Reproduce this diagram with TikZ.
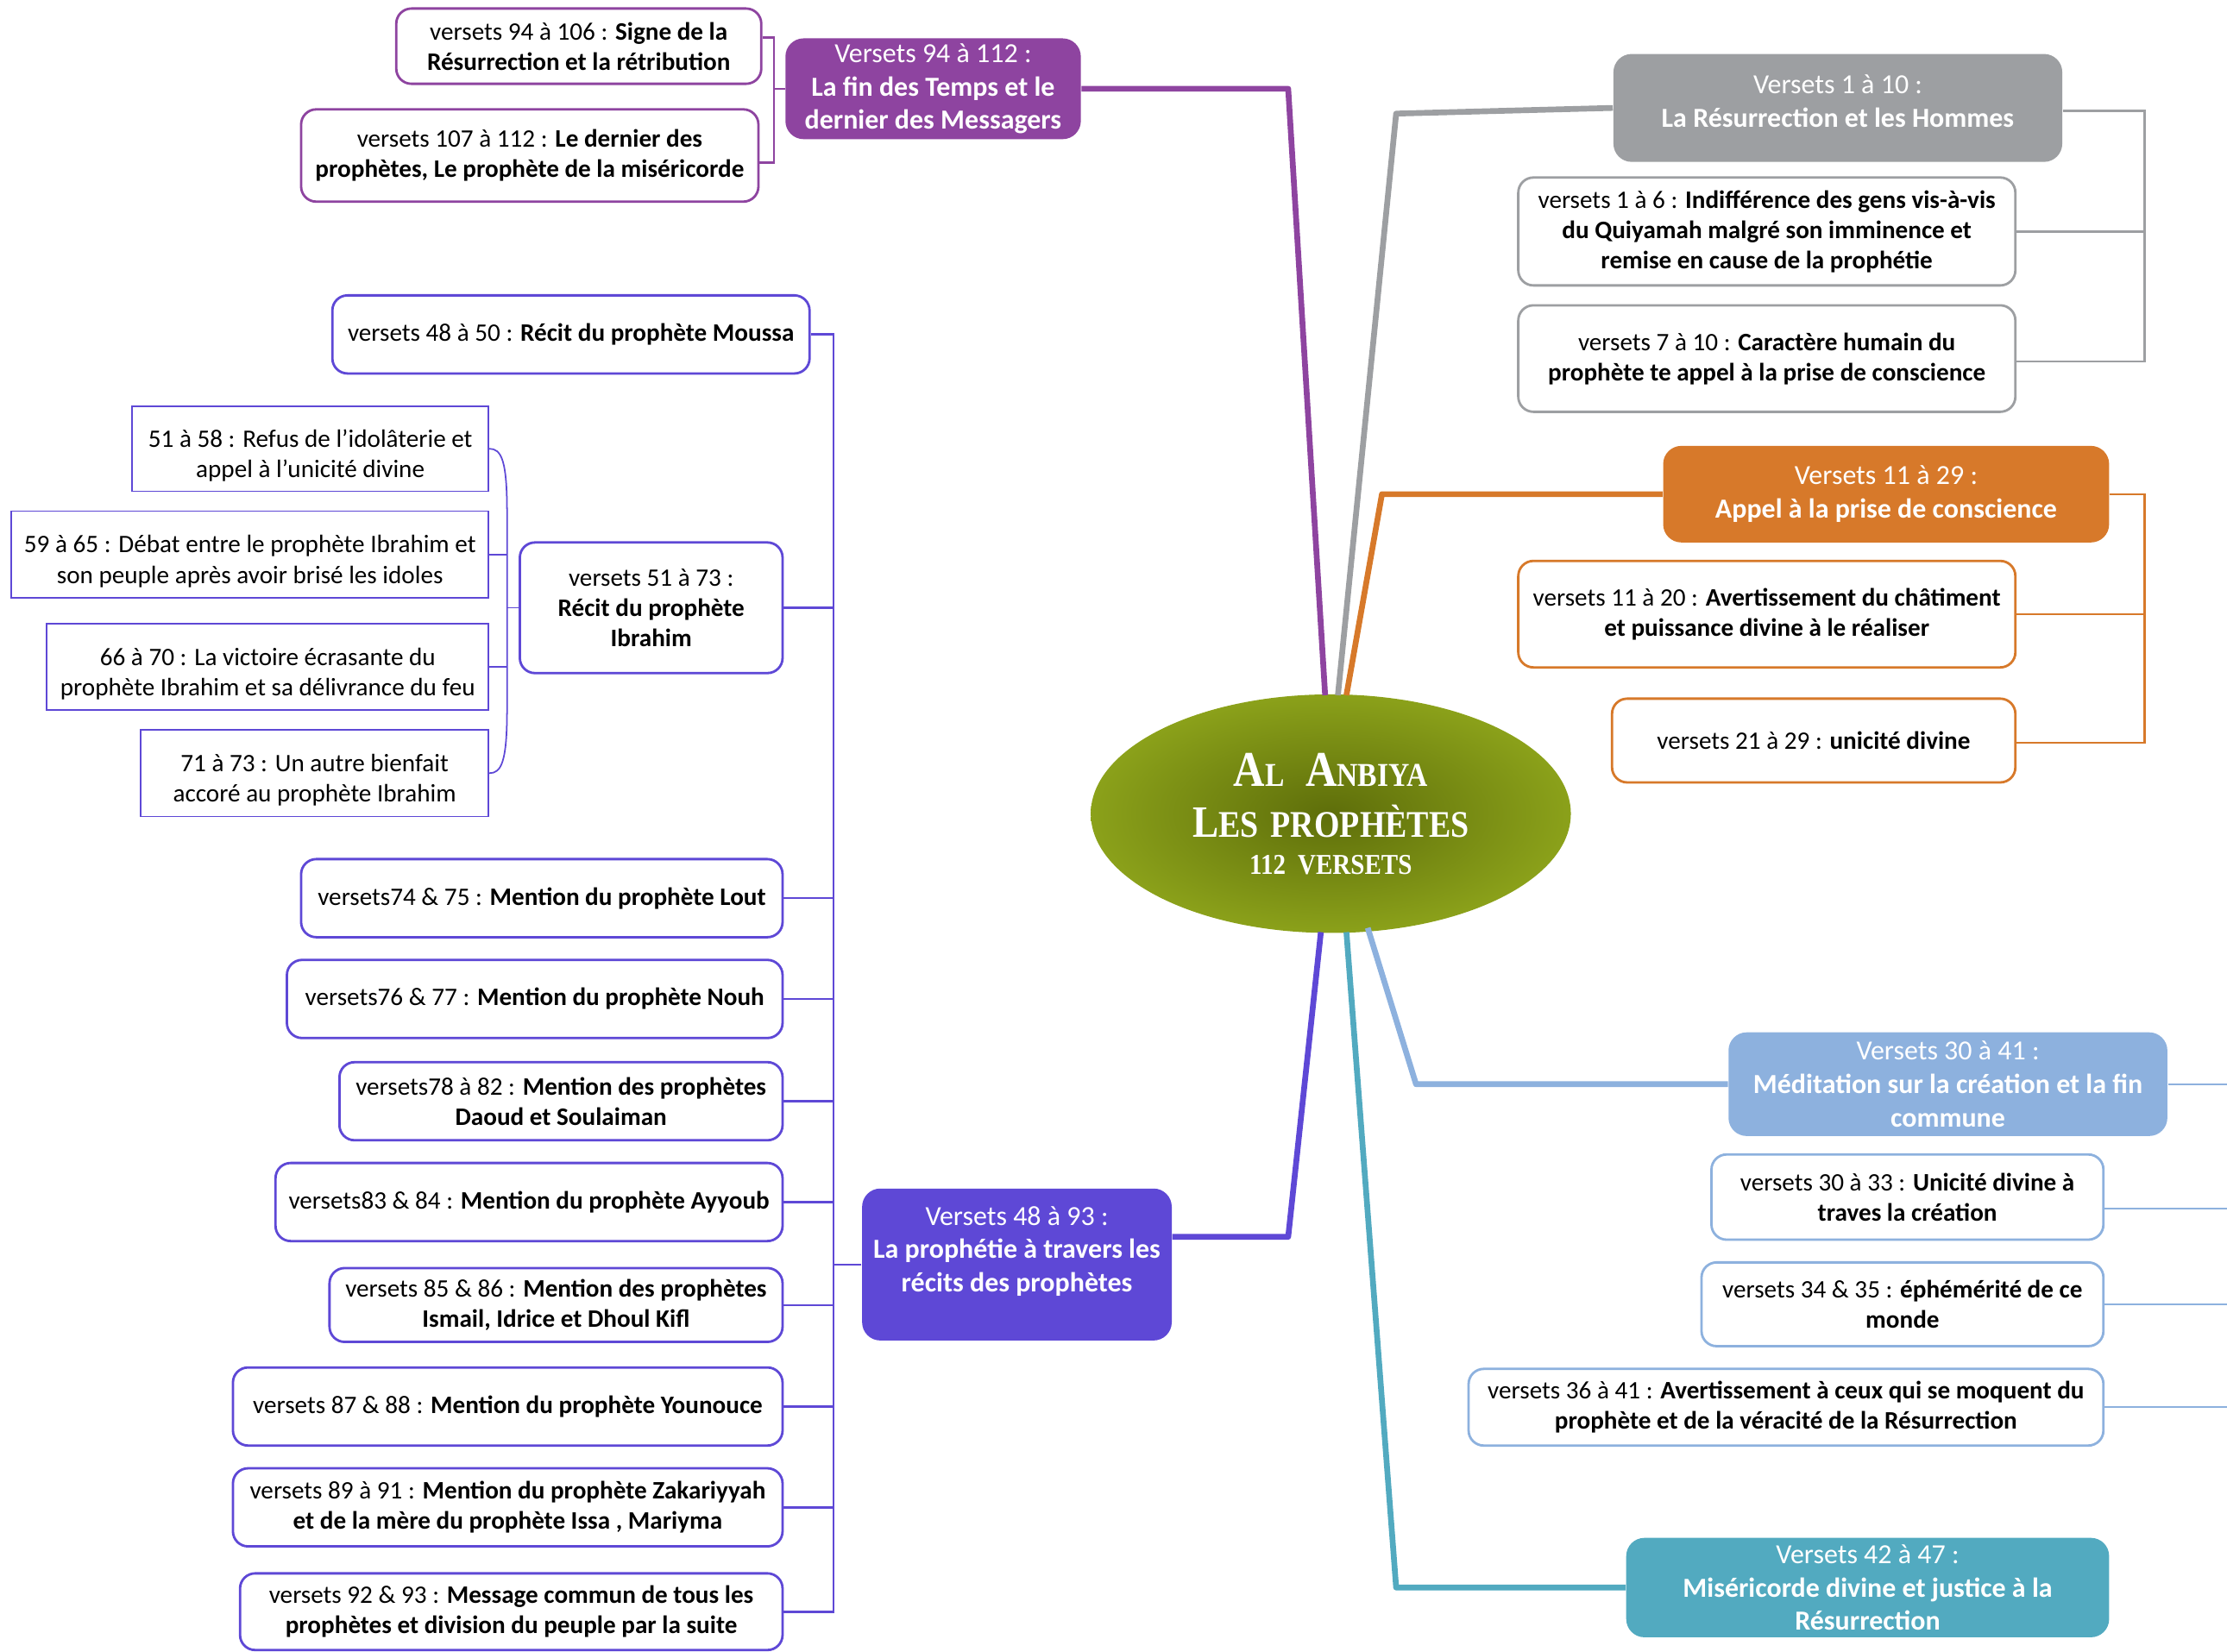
\documentclass[tikz,border=0pt]{standalone}
\usepackage{fontspec}
\setmainfont{Carlito}
\newfontfamily\titlefont[FakeStretch=0.87]{Liberation Serif}
\usetikzlibrary{shapes.geometric,calc}

\definecolor{finpurple}{RGB}{142,68,160}
\definecolor{resgray}{RGB}{157,159,162}
\definecolor{appelorange}{RGB}{215,121,42}
\definecolor{medblue}{RGB}{141,177,222}
\definecolor{misteal}{RGB}{82,170,192}
\definecolor{recviolet}{RGB}{94,72,214}
\definecolor{olivein}{RGB}{94,110,10}
\definecolor{oliveout}{RGB}{139,161,26}

\newcommand\pu{0.01646cm}
\newcommand\ttl[2]{{\fontsize{#1}{#1}\selectfont #2}}

\tikzset{
  topic/.style={fill=#1, rounded corners=6pt, text=white, align=center,
    font=\fontsize{9.1}{11}\selectfont, inner sep=0pt},
  leaf/.style={draw=#1, fill=white, line width=0.8pt, rounded corners=5pt,
    align=center, font=\fontsize{8.3}{10}\selectfont, inner sep=0pt},
  sq/.style={draw=recviolet, line width=0.5pt, align=center, text height=20.3pt,
    font=\fontsize{8.3}{10}\selectfont, inner sep=0pt},
  dim/.style 2 args={minimum width=#1*\pu, minimum height=#2*\pu},
  trunk/.style={draw=#1, line width=1.9pt, line join=round},
  twig/.style={draw=#1, line width=0.7pt},
}

\begin{document}
\begin{tikzpicture}[x=\pu, y=-\pu]
\useasboundingbox (0,0) rectangle (1568,1163);

% centre
\node[ellipse, dim={338}{168}, inner color=olivein, outer color=oliveout,
  text=white, align=center, font=\titlefont\bfseries\fontsize{12}{17}\selectfont] (ctr) at (937,573)
  {\ttl{16.5}{A}\ttl{11}{L}\hspace{7pt}\ttl{16.5}{A}\ttl{11}{NBIYA}\\
   \ttl{14.8}{L}\ttl{12.4}{ES}\hspace{4pt}\ttl{12.4}{PROPHÈTES}\\[-5pt]
   \ttl{9.5}{112\hspace{4pt}VERSETS}};

% versets 94 a 112
\node[topic=finpurple, dim={208}{71}] (purp) at (657,62.5)
  {Versets 94 à 112 :\\\textbf{La fin des Temps et le}\\\textbf{dernier des Messagers}};
\node[leaf=finpurple, dim={257}{53}] (p1) at (407.5,32.5)
  {versets 94 à 106 : \textbf{Signe de la}\\\textbf{Résurrection et la rétribution}};
\node[leaf=finpurple, dim={322}{65}] (p2) at (373,109.5)
  {versets 107 à 112 : \textbf{Le dernier des}\\\textbf{prophètes, Le prophète de la miséricorde}};

% versets 1 a 10
\node[topic=resgray, dim={316}{76}] (gry) at (1294,76)
  {Versets 1 à 10 :\\\textbf{La Résurrection et les Hommes}\\[-6.4pt]};
\node[leaf=resgray, dim={350}{76}] (g1) at (1244,163)
  {versets 1 à 6 : \textbf{Indifférence des gens vis-à-vis}\\\textbf{du Quiyamah malgré son imminence et}\\\textbf{remise en cause de la prophétie}};
\node[leaf=resgray, dim={350}{75}] (g2) at (1244,252.5)
  {versets 7 à 10 : \textbf{Caractère humain du}\\\textbf{prophète te appel à la prise de conscience}};

% versets 11 a 29
\node[topic=appelorange, dim={314}{68}] (org) at (1328,348)
  {Versets 11 à 29 :\\\textbf{Appel à la prise de conscience}};
\node[leaf=appelorange, dim={350}{75}] (o1) at (1244,432.5)
  {versets 11 à 20 : \textbf{Avertissement du châtiment}\\\textbf{et puissance divine à le réaliser}};
\node[leaf=appelorange, dim={284}{59}] (o2) at (1277,521.5)
  {versets 21 à 29 : \textbf{unicité divine}};

% versets 30 a 41
\node[topic=medblue, dim={309}{73}] (lbl) at (1371.5,763.5)
  {Versets 30 à 41 :\\\textbf{Méditation sur la création et la fin}\\\textbf{commune}};
\node[leaf=medblue, dim={276}{60}] (l1) at (1343,843)
  {versets 30 à 33 : \textbf{Unicité divine à}\\\textbf{traves la création}};
\node[leaf=medblue, dim={283}{59}] (l2) at (1339.5,918.5)
  {versets 34 \& 35 : \textbf{éphémérité de ce}\\\textbf{monde}};
\node[leaf=medblue, dim={447}{54}] (l3) at (1257.5,991)
  {versets 36 à 41 : \textbf{Avertissement à ceux qui se moquent du}\\\textbf{prophète et de la véracité de la Résurrection}};

% versets 42 a 47
\node[topic=misteal, dim={340}{70}] (tea) at (1315,1118)
  {Versets 42 à 47 :\\\textbf{Miséricorde divine et justice à la}\\\textbf{Résurrection}};

% versets 48 a 93
\node[topic=recviolet, dim={218}{107}] (vio) at (716,890.5)
  {Versets 48 à 93 :\\\textbf{La prophétie à travers les}\\\textbf{récits des prophètes}\\[-0.8pt]};
\node[leaf=recviolet, dim={336}{55}] (m1) at (402,235.5)
  {versets 48 à 50 : \textbf{Récit du prophète Moussa}};
\node[leaf=recviolet, dim={185}{92}] (ibr) at (458.5,428)
  {versets 51 à 73 :\\\textbf{Récit du prophète}\\\textbf{Ibrahim}};
\node[sq, dim={251}{60}] (r1) at (218.5,316)
  {51 à 58 : Refus de l’idolâterie et\\appel à l’unicité divine};
\node[sq, dim={336}{61}] (r2) at (176,390.5)
  {59 à 65 : Débat entre le prophète Ibrahim et\\son peuple après avoir brisé les idoles};
\node[sq, dim={311}{61}] (r3) at (188.5,469.5)
  {66 à 70 : La victoire écrasante du\\prophète Ibrahim et sa délivrance du feu};
\node[sq, dim={245}{61}] (r4) at (221.5,544.5)
  {71 à 73 : Un autre bienfait\\accoré au prophète Ibrahim};
\node[leaf=recviolet, dim={339}{55}] (m2) at (381.5,632.5)
  {versets74 \& 75 : \textbf{Mention du prophète Lout}};
\node[leaf=recviolet, dim={349}{55}] (m3) at (376.5,703.5)
  {versets76 \& 77 : \textbf{Mention du prophète Nouh}};
\node[leaf=recviolet, dim={312}{55}] (m4) at (395,775.5)
  {versets78 à 82 : \textbf{Mention des prophètes}\\\textbf{Daoud et Soulaiman}};
\node[leaf=recviolet, dim={357}{55}] (m5) at (372.5,846.5)
  {versets83 \& 84 : \textbf{Mention du prophète Ayyoub}};
\node[leaf=recviolet, dim={319}{52}] (m6) at (391.5,919)
  {versets 85 \& 86 : \textbf{Mention des prophètes}\\\textbf{Ismail, Idrice et Dhoul Kifl}};
\node[leaf=recviolet, dim={387}{55}] (m7) at (357.5,990.5)
  {versets 87 \& 88 : \textbf{Mention du prophète Younouce}};
\node[leaf=recviolet, dim={387}{55}] (m8) at (357.5,1061.5)
  {versets 89 à 91 : \textbf{Mention du prophète Zakariyyah}\\\textbf{et de la mère du prophète Issa , Mariyma}};
\node[leaf=recviolet, dim={382}{54}] (m9) at (360,1135)
  {versets 92 \& 93 : \textbf{Message commun de tous les}\\\textbf{prophètes et division du peuple par la suite}};

% bends and bracket lines
\coordinate (kp) at (907,62);
\coordinate (kg) at (983,80);
\coordinate (ko) at (973,348);
\coordinate (kl) at (997,763.5);
\coordinate (kt) at (983,1118);
\coordinate (kv) at (907,871);
\coordinate (bp) at (545,0);
\coordinate (bg) at (1510,0);
\coordinate (bl) at (1580,0);
\coordinate (bv) at (587,0);
\coordinate (bi) at (357,0);

% trunks
\draw[trunk=finpurple] (purp.east) -- (purp.east -| kp) -- ($(ctr.north)+(-4,1)$);
\draw[trunk=resgray] (gry.west) -- (kg) -- ($(ctr.north)+(5,1)$);
\draw[trunk=appelorange] (org.west) -- (ko) -- ($(ctr.north)+(11,1)$);
\draw[trunk=medblue] ($(ctr.south)+(26,-4)$) -- (kl) -- (lbl.west);
\draw[trunk=misteal] ($(ctr.south)+(11,-1)$) -- (kt) -- (tea.west);
\draw[trunk=recviolet] ($(ctr.south)+(-7,-1)$) -- (kv) -- (vio.east |- kv);

% brackets
\draw[twig=finpurple] (purp.west) -- (purp.west -| bp);
\draw[twig=finpurple] ($(p1.east)+(0,-6)$) -| ($(p2.east -| bp)+(0,5)$) -- ($(p2.east)+(0,5)$);

\draw[twig=resgray] ($(gry.east)+(0,2)$) -| ($(g2.east -| bg)+(0,2)$) -- ($(g2.east)+(0,2)$);
\draw[twig=resgray] (g1.east) -- (g1.east -| bg);

\draw[twig=appelorange] (org.east) -| ($(o2.east -| bg)+(0,1.5)$) -- ($(o2.east)+(0,1.5)$);
\draw[twig=appelorange] (o1.east) -- (o1.east -| bg);

\draw[twig=medblue] (lbl.east) -- (lbl.east -| bl);
\draw[twig=medblue] ($(l1.east)+(0,8)$) -- ($(l1.east -| bl)+(0,8)$);
\foreach \n in {l2,l3}
  \draw[twig=medblue] (\n.east) -- (\n.east -| bl);

\draw[twig=recviolet] (vio.west) -- (vio.west -| bv);
\draw[twig=recviolet] (m1.east) -| (m9.east -| bv) -- (m9.east);
\foreach \n in {ibr,m2,m3,m4,m5,m6,m7,m8}
  \draw[twig=recviolet] (\n.east) -- (\n.east -| bv);

% ibrahim brace
\draw[recviolet, line width=0.5pt] (ibr.west) -- (ibr.west -| bi);
\draw[recviolet, line width=0.5pt] (r2.east) -- (r2.east -| bi);
\draw[recviolet, line width=0.5pt] (r3.east) -- (r3.east -| bi);
\draw[recviolet, line width=0.5pt] (r1.east)
  .. controls ($(r1.east -| bi)+(-4,0)$) and ($(r1.east -| bi)+(0,8)$) .. ($(r1.east -| bi)+(0,45)$)
  -- ($(r4.east -| bi)+(0,-45)$)
  .. controls ($(r4.east -| bi)+(0,-8)$) and ($(r4.east -| bi)+(-4,0)$) .. (r4.east);
\end{tikzpicture}
\end{document}
